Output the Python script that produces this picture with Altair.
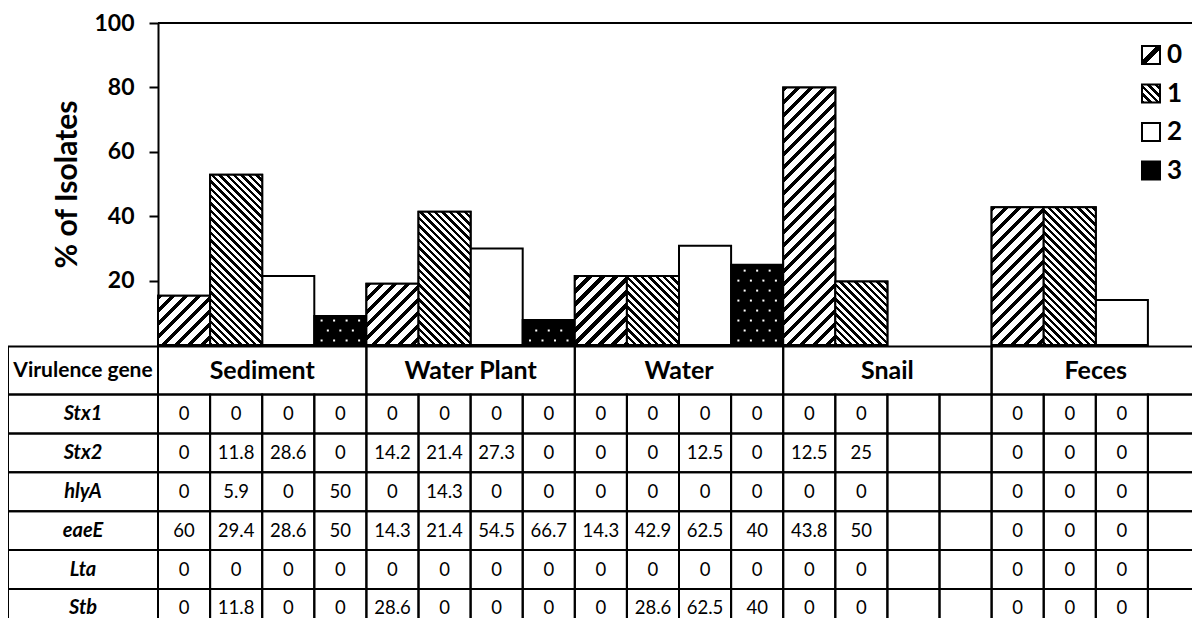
import altair as alt
import pandas as pd

# ---------------- data ----------------
groups = ["Sediment", "Water Plant", "Water", "Snail", "Feces"]
classes = ["0", "1", "2", "3"]

sediment_pct = [15.3, 52.9, 21.4, 9.0]
water_plant_pct = [19.0, 41.4, 30.0, 7.8]
water_pct = [21.4, 21.4, 30.8, 24.9]
snail_pct = [80.0, 19.7, None, None]
feces_pct = [42.8, 42.8, 14.0, None]

genes = ["Stx1", "Stx2", "hlyA", "eaeE", "Lta", "Stb"]
stx1_row = ["0", "0", "0", "0", "0", "0", "0", "0", "0", "0", "0", "0", "0", "0", "", "", "0", "0", "0", ""]
stx2_row = ["0", "11.8", "28.6", "0", "14.2", "21.4", "27.3", "0", "0", "0", "12.5", "0", "12.5", "25", "", "", "0", "0", "0", ""]
hlya_row = ["0", "5.9", "0", "50", "0", "14.3", "0", "0", "0", "0", "0", "0", "0", "0", "", "", "0", "0", "0", ""]
eaee_row = ["60", "29.4", "28.6", "50", "14.3", "21.4", "54.5", "66.7", "14.3", "42.9", "62.5", "40", "43.8", "50", "", "", "0", "0", "0", ""]
lta_row = ["0", "0", "0", "0", "0", "0", "0", "0", "0", "0", "0", "0", "0", "0", "", "", "0", "0", "0", ""]
stb_row = ["0", "11.8", "0", "0", "28.6", "0", "0", "0", "0", "28.6", "62.5", "40", "0", "0", "", "", "0", "0", "0", ""]

header_label = "Virulence gene"
y_title = "% of Isolates"
y_ticks = [20, 40, 60, 80, 100]

# ---------------- layout ----------------
FONT = "Lato"
PLOT_W = 1042
PLOT_H = 322
N_SLOTS = 20
SLOT_PX = PLOT_W / N_SLOTS
PPU = PLOT_H / 100.0           # pixels per % unit
LABEL_COL_PX = 150
TABLE_TOP_PX = 1.5
HEADER_PX = 48
ROW_PX = 38.9
LEG_TOP_PX = 32
LEG_STEP_PX = 38.5
LEG_X = PLOT_W - 49
SQ = 18

pct_by_group = [sediment_pct, water_plant_pct, water_pct, snail_pct, feces_pct]
rows_by_gene = [stx1_row, stx2_row, hlya_row, eaee_row, lta_row, stb_row]

bar_recs = []
for gi, g in enumerate(groups):
    for ci, c in enumerate(classes):
        v = pct_by_group[gi][ci]
        if v is None:
            continue
        slot = gi * len(classes) + ci
        bar_recs.append({"group": g, "cls": c, "slot": slot, "x0": slot, "x1": slot + 1, "value": v, "base": 0})
bars_df = pd.DataFrame(bar_recs)

x_scale = alt.Scale(domain=[0, N_SLOTS])
y_scale = alt.Scale(domain=[0, 100])
Y_AXIS = alt.Axis(values=y_ticks, title=y_title, grid=False, domain=True,
                  domainColor="black", domainWidth=2, tickColor="black",
                  tickWidth=2, tickSize=9, labelFont=FONT, labelFontSize=23,
                  labelFontWeight="bold", labelColor="black", labelPadding=15,
                  titleFont=FONT, titleFontSize=30, titleFontWeight="bold",
                  titleColor="black", titlePadding=11, orient="left")


def XQ(field):
    return alt.X(field, scale=x_scale, axis=None)


def YQ(field):
    return alt.Y(field, scale=y_scale, axis=Y_AXIS)


def stripe_gradient(w, h, period, black_frac, direction, phase=0.0):
    L = w + h
    s = (w + h) / (w * w + h * h)
    if direction == "/":
        x1, y1, x2, y2 = 0, 0, w * s, h * s
    else:
        x1, y1, x2, y2 = 0, 1, w * s, 1 - h * s
    stops = []
    k = -1
    while True:
        a = k * period + phase
        b = a + black_frac * period
        c = a + period
        if a / L > 1:
            break
        for off, col in [(a, "black"), (b, "black"), (b, "white"), (c, "white")]:
            o = min(max(off / L, 0.0), 1.0)
            stops.append(alt.GradientStop(offset=o, color=col))
        k += 1
    return alt.LinearGradient(gradient="linear", stops=stops, x1=x1, y1=y1, x2=x2, y2=y2)


PATTERN = {"0": dict(period=13.0, black_frac=0.4, direction="/"),
           "1": dict(period=7.4, black_frac=0.45, direction="\\")}

base_bars = alt.Chart(bars_df).mark_rect(stroke="black", strokeWidth=2).encode(
    x=XQ("x0:Q"), x2="x1:Q",
    y=YQ("value:Q"), y2="base:Q",
    fill=alt.Fill("cls:N", scale=alt.Scale(domain=classes, range=["white", "white", "white", "black"]), legend=None),
)

pattern_layers = []
for r in bar_recs:
    if r["cls"] not in PATTERN:
        continue
    p = PATTERN[r["cls"]]
    grad = stripe_gradient(SLOT_PX, r["value"] * PPU, p["period"], p["black_frac"], p["direction"])
    pattern_layers.append(
        alt.Chart(bars_df).transform_filter(alt.datum.slot == r["slot"]).mark_rect(
            fill=grad, stroke="black", strokeWidth=2).encode(x=XQ("x0:Q"), x2="x1:Q", y=YQ("value:Q"), y2="base:Q")
    )

# dotted pattern for class 3
dots = alt.Chart(bars_df).transform_filter(alt.datum.cls == "3").transform_calculate(
    row="sequence(1.4, datum.value - 0.8, 3.1)"
).transform_flatten(["row"]).transform_calculate(
    col="sequence(0.14 + (floor(datum.row / 3.1) % 2) * 0.12, 0.95, 0.24)"
).transform_flatten(["col"]).transform_calculate(
    dx="datum.slot + datum.col"
).mark_square(size=4, color="white", opacity=1).encode(x=XQ("dx:Q"), y=YQ("row:Q"))

top_line = alt.Chart(pd.DataFrame({"top": [100]})).mark_rule(color="black", strokeWidth=2).encode(
    y=YQ("top:Q"))

# ---------------- table ----------------
lab_x0 = -LABEL_COL_PX / SLOT_PX
t0 = -TABLE_TOP_PX / PPU
hdr_y2 = -(TABLE_TOP_PX + HEADER_PX) / PPU
cells = []
texts = []
cells.append({"x0": lab_x0, "x1": 0, "y0": t0, "y1": hdr_y2})
texts.append({"kind": "hlabel", "tx": lab_x0 / 2, "ty": (t0 + hdr_y2) / 2, "text": header_label})
for gi, g in enumerate(groups):
    cells.append({"x0": gi * 4, "x1": gi * 4 + 4, "y0": t0, "y1": hdr_y2})
    texts.append({"kind": "group", "tx": gi * 4 + 2, "ty": (t0 + hdr_y2) / 2, "text": g})
for ri, gene in enumerate(genes):
    ya = -(TABLE_TOP_PX + HEADER_PX + ri * ROW_PX) / PPU
    yb = -(TABLE_TOP_PX + HEADER_PX + (ri + 1) * ROW_PX) / PPU
    cells.append({"x0": lab_x0, "x1": 0, "y0": ya, "y1": yb})
    texts.append({"kind": "gene", "tx": lab_x0 / 2, "ty": (ya + yb) / 2, "text": gene})
    for si, val in enumerate(rows_by_gene[ri]):
        cells.append({"x0": si, "x1": si + 1, "y0": ya, "y1": yb})
        if val != "":
            texts.append({"kind": "value", "tx": si + 0.5, "ty": (ya + yb) / 2, "text": val})
cells_df = pd.DataFrame(cells)
texts_df = pd.DataFrame(texts)

table_grid = alt.Chart(cells_df).mark_rect(fillOpacity=0, stroke="black", strokeWidth=2).encode(
    x=XQ("x0:Q"), x2="x1:Q", y=YQ("y0:Q"), y2="y1:Q")


def text_layer(kind, size, weight="normal", style="normal"):
    return alt.Chart(texts_df).transform_filter(alt.datum.kind == kind).mark_text(
        font=FONT, fontSize=size, fontWeight=weight, fontStyle=style, color="black",
        align="center", baseline="middle").encode(
        x=XQ("tx:Q"), y=YQ("ty:Q"), text="text:N")


table_text = [text_layer("hlabel", 21, "bold"), text_layer("group", 25, "bold"),
              text_layer("gene", 20, "bold", "italic"), text_layer("value", 18.5)]

# ---------------- legend ----------------
leg_df = pd.DataFrame({"cls": classes,
                       "ly": [100 - (LEG_TOP_PX + i * LEG_STEP_PX) / PPU for i in range(len(classes))]})


def leg_square(c, fill):
    return alt.Chart(leg_df).transform_filter(alt.datum.cls == c).mark_square(
        size=SQ * SQ, fill=fill, stroke="black", strokeWidth=2, opacity=1).encode(
        x=alt.value(LEG_X), y=YQ("ly:Q"))


leg0 = stripe_gradient(SQ, SQ, 36.0, 0.22, "/", phase=14.0)
leg1 = stripe_gradient(SQ, SQ, 7.4, 0.45, "\\")
legend_layers = [leg_square("0", leg0), leg_square("1", leg1), leg_square("2", "white"), leg_square("3", "black")]
legend_text = alt.Chart(leg_df).mark_text(font=FONT, fontSize=26, fontWeight="bold", color="black",
                                          align="left", baseline="middle").encode(
    x=alt.value(LEG_X + 16), y=YQ("ly:Q"), text="cls:N")

chart = alt.layer(base_bars, *pattern_layers, dots, top_line, table_grid, *table_text,
                  *legend_layers, legend_text).properties(
    width=PLOT_W, height=PLOT_H,
    autosize=alt.AutoSizeParams(type="none"),
    padding={"left": LABEL_COL_PX, "top": 15, "right": -8, "bottom": 273},
    background="white",
).configure_view(stroke=None)

chart.save("out.html", embed_options={"renderer": "svg", "actions": False})
